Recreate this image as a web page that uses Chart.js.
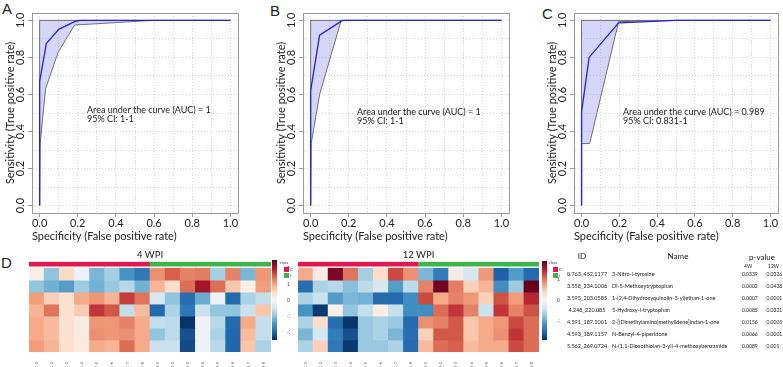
<!DOCTYPE html>
<html>
<head>
<meta charset="utf-8">
<title>ROC curves and metabolite heatmaps</title>
<script src="https://cdn.jsdelivr.net/npm/chart.js@4.4.1/dist/chart.umd.min.js"></script>
<style>
  html, body { margin: 0; padding: 0; background: #fff; }
  body { position: relative; width: 783px; height: 367px; overflow: hidden;
         font-family: Lato, "Liberation Sans", sans-serif; color: #222; }
  canvas, .txt, .sw { position: absolute; }
  .txt { white-space: nowrap; }
  .panel { font-family: "Liberation Sans", Arial, sans-serif; font-size: 15px; line-height: 15px; }
  .auc { font-size: 9px; line-height: 9px; }
  .hdr { font-size: 8px; line-height: 8px; }
  .sub { font-size: 5px; line-height: 5px; }
  .row { font-size: 5.5px; line-height: 6px; }
  .pv { font-size: 5px; line-height: 6px; }
  .tiny { font-size: 4px; line-height: 4px; color: #444; }
</style>
</head>
<body>
<div class="txt panel" style="left:2px;top:1px">A</div>
<div class="txt panel" style="left:270px;top:3px">B</div>
<div class="txt panel" style="left:542px;top:6px">C</div>
<div class="txt panel" style="left:1px;top:255px">D</div>

<canvas id="rocA" width="260" height="245" style="left:0;top:0"></canvas>
<canvas id="rocB" width="260" height="245" style="left:260px;top:0"></canvas>
<canvas id="rocC" width="260" height="245" style="left:520px;top:0"></canvas>
<canvas id="heat4" width="250" height="122" style="left:25px;top:245px"></canvas>
<canvas id="heat12" width="249" height="122" style="left:294px;top:245px"></canvas>
<canvas id="bar4" width="22" height="90" style="left:268px;top:255px"></canvas>
<canvas id="bar12" width="22" height="89" style="left:538px;top:256px"></canvas>

<script>
// ---- ROC data: [false positive rate, true positive rate] ----
const rocA = [[0, 0], [0, 0.67], [0.035, 0.875], [0.1, 0.952], [0.183, 0.993], [0.21, 1], [1, 1]];
const ciLowA = [[0, 0], [0.003, 0.335], [0.031, 0.63], [0.096, 0.826], [0.183, 0.975], [0.59, 1], [1, 1]];
const ciHighA = [[0, 0], [0, 1], [1, 1]];

const rocB = [[0, 0], [0, 0.62], [0.047, 0.92], [0.161, 0.996], [0.17, 1], [1, 1]];
const ciLowB = [[0, 0], [0.003, 0.335], [0.047, 0.6], [0.16, 1], [1, 1]];
const ciHighB = [[0, 0], [0, 1], [1, 1]];

const rocC = [[0, 0], [0, 0.505], [0.04, 0.8], [0.196, 0.987], [0.5, 1], [1, 1]];
const ciLowC = [[0, 0], [0, 0.335], [0.043, 0.335], [0.196, 0.993], [0.45, 1], [1, 1]];
const ciHighC = [[0, 0], [0, 1], [1, 1]];

const aucA = ['Area under the curve (AUC) = 1', '95% CI: 1-1'];
const aucB = ['Area under the curve (AUC) = 1', '95% CI: 1-1'];
const aucC = ['Area under the curve (AUC) = 0.989', '95% CI: 0.831-1'];

const gridSteps = [0, 0.1, 0.2, 0.3, 0.4, 0.5, 0.6, 0.7, 0.8, 0.9, 1.0];

// ---- heatmap data ----
const samples4w = ['4C-1', '4C-2', '4C-3', '4C-4', '4C-5', '4C-6', '4C-7', '4C-8',
                   '4I-1', '4I-2', '4I-3', '4I-4', '4I-5', '4I-6', '4I-7', '4I-8'];
const samples12w = ['12C-1', '12C-2', '12C-3', '12C-4', '12C-5', '12C-6', '12C-7', '12C-8',
                    '12I-1', '12I-2', '12I-3', '12I-4', '12I-5', '12I-6', '12I-7', '12I-8'];
const sampleClass = ['C', 'C', 'C', 'C', 'C', 'C', 'C', 'C', 'I', 'I', 'I', 'I', 'I', 'I', 'I', 'I'];

const hm4w = [
  [0.15, -1.0, 0.5, -0.15, -1.15, -0.85, -1.5, -1.8, 1.15, 1.5, 1.25, 1.3, -0.85, 1.25, -1.15, 1.1],
  [-1.0, -1.2, -1.4, -0.9, -1.2, -0.95, -0.7, -1.2, 0.85, 0.45, 1.4, 2.1, 1.4, 0.7, 0.15, 1.05],
  [1.05, 0.6, 0.4, 0.95, 1.1, 0.85, 1.75, 1.35, -0.4, -1.0, -1.9, -1.25, -0.15, -1.95, -0.8, -0.6],
  [0.85, 1.35, 0.4, 0.65, 1.8, 1.55, -0.6, 0.8, -1.95, -0.8, -1.8, -0.55, -1.0, -1.0, -0.55, 0.7],
  [0.95, 0.8, 0.4, 0.2, 1.1, 1.1, 1.25, 0.95, -0.6, -0.65, -2.45, -0.15, -0.7, -1.95, 0.95, -0.6],
  [0.95, 0.8, 0.4, 0.25, 1.15, 1.1, 1.15, 0.95, -1.0, -0.65, -2.2, -0.15, -0.8, -2.0, 0.8, -0.6],
  [1.05, 0.85, 0.4, 0.25, 0.95, 0.85, 1.4, 0.95, -0.55, -0.55, -2.25, -0.15, -0.7, -2.0, 0.7, -0.8]
];
const hm12w = [
  [0.7, 0.15, 1.74, 1.0, -0.63, 0.33, 1.22, 0.85, -0.85, -1.3, 0.15, -0.33, 0.81, -1.52, -1.04, -1.44],
  [-1.41, -0.59, -0.52, -0.78, -0.48, -0.33, -1.04, -0.48, 0.93, 1.81, 0.96, 0.44, 0.63, -1.15, -0.67, 1.85],
  [-0.59, -0.41, -1.04, -0.85, -0.89, -1.44, -1.45, -1.15, 1.22, 0.7, 0.93, 0.81, 0.44, 1.18, 0.78, 1.41],
  [-1.11, -1.78, 0.11, -0.74, -0.44, 0.15, -0.44, -1.15, -1.15, 1.04, 1.33, 0.93, -0.41, 1.33, 0.93, 1.18],
  [-0.59, 0.33, -1.41, -1.81, -0.7, -0.59, -0.7, -1.44, 0.85, 0.93, 1.15, 0.52, 0.7, 0.81, 1.22, 1.04],
  [-0.85, -0.33, -1.3, -1.63, -0.7, -0.59, -0.85, -1.41, 0.44, 1.15, 1.15, 0.52, 0.7, 0.85, 1.33, 1.04],
  [-0.59, 0.44, -1.33, -1.78, -0.7, -0.7, -0.59, -1.44, 0.59, 1.04, 1.11, 0.59, 0.7, 0.7, 1.22, 1.04]
];
const range4w = [-2.5, 2.5];
const range12w = [-1.85, 1.85];
const legendTicks4w = [-2, -1, 0, 1, 2];
const legendTicks12w = [-1, 0, 1];

// ---- metabolite table ----
const featureIds = ['0.763_452.1177', '3.558_234.1006', '3.595_203.0585', '4.248_220.085',
                    '4.591_187.1001', '4.593_189.1157', '5.562_269.0724'];
const featureNames = ['3-Nitro-l-tyrosine', 'Dl-5-Methoxytryptophan',
                      '1-(2,4-Dihydroxyquinolin-3-yl)ethan-1-one', '5-Hydroxy-l-tryptophan',
                      '2-[(Dimethylamino)methylidene]indan-1-one', 'N-Benzyl-4-piperidone',
                      'N-(1,1-Dioxothiolan-3-yl)-4-methoxybenzamide'];
const pValue4w = ['0.0339', '0.0002', '0.0007', '0.0085', '0.0156', '0.0066', '0.0089'];
const pValue12w = ['0.0326', '0.0428', '0.0001', '0.0321', '0.0005', '0.0001', '0.001'];

// ---- styles ----
const FONT = 'Lato, "Liberation Sans", sans-serif';
const textColor = '#222';
const boxColor = '#9a9a9a';
const gridColor = '#d4d4d4';
const rocLine = '#2323e0';
const ciLine = '#707070';
const ciFill = 'rgba(165, 165, 245, 0.45)';
const classColors = { C: '#e3174f', I: '#3db54a' };
const rdbu = ['#053061', '#2166ac', '#4393c3', '#92c5de', '#d1e5f0', '#f7f7f7',
              '#fddbc7', '#f4a582', '#d6604d', '#b2182b', '#67001f'];

Chart.defaults.font.family = FONT;
Chart.defaults.color = textColor;

const pts = arr => arr.map(([x, y]) => ({ x, y }));
const isMajor = v => Math.round(v * 10) % 2 === 0;

function hexRgb(h) {
  return [1, 3, 5].map(i => parseInt(h.slice(i, i + 2), 16));
}
function heatColor(v, lo, hi) {
  let t = (v - lo) / (hi - lo);
  t = Math.max(0, Math.min(1, t));
  const p = t * (rdbu.length - 1);
  const i = Math.min(rdbu.length - 2, Math.floor(p));
  const f = p - i;
  const a = hexRgb(rdbu[i]), b = hexRgb(rdbu[i + 1]);
  const c = a.map((x, k) => Math.round(x + (b[k] - x) * f));
  return 'rgb(' + c.join(',') + ')';
}

// one ROC panel; box edges are set by padding + fixed axis sizes
function rocChart(id, padLeft, padRight, roc, ciHigh, ciLow) {
  const frameAxis = {
    type: 'linear', min: -0.04, max: 1.04,
    ticks: { display: false },
    grid: { drawOnChartArea: false, drawTicks: false },
    border: { color: boxColor }
  };
  return new Chart(document.getElementById(id), {
    type: 'line',
    data: {
      datasets: [
        {
          label: 'ROC', data: pts(roc), order: 0,
          borderColor: rocLine, borderWidth: 1.3, pointRadius: 0, fill: false, tension: 0
        },
        {
          label: '95% CI', data: pts(ciHigh.concat(ciLow.slice().reverse())), order: 1,
          borderColor: ciLine, borderWidth: 1, backgroundColor: ciFill,
          pointRadius: 0, fill: 'shape', tension: 0
        }
      ]
    },
    options: {
      responsive: false,
      animation: false,
      events: [],
      layout: { padding: { left: padLeft, right: padRight, top: 13, bottom: 0 } },
      plugins: { legend: { display: false }, tooltip: { enabled: false } },
      scales: {
        x: {
          type: 'linear', position: 'bottom', min: -0.04, max: 1.04,
          afterBuildTicks: s => { s.ticks = gridSteps.map(v => ({ value: v })); },
          afterFit: s => { s.height = 32; },
          grid: {
            color: gridColor, tickLength: 4, tickWidth: 1,
            tickColor: ctx => (ctx.tick && isMajor(ctx.tick.value) ? boxColor : 'transparent')
          },
          border: { color: boxColor, dash: [1, 2] },
          ticks: {
            font: { size: 11 }, color: textColor, padding: 0, maxRotation: 0,
            callback: v => (isMajor(v) ? v.toFixed(1) : '')
          },
          title: {
            display: true, text: 'Specificity (False positive rate)', align: 'start',
            font: { size: 11 }, color: textColor, padding: { top: 0, bottom: 2 }
          }
        },
        y: {
          type: 'linear', position: 'left', min: -0.04, max: 1.04,
          afterBuildTicks: s => { s.ticks = gridSteps.map(v => ({ value: v })); },
          afterFit: s => { s.width = 32; },
          grid: {
            color: gridColor, tickLength: 4, tickWidth: 1,
            tickColor: ctx => (ctx.tick && isMajor(ctx.tick.value) ? boxColor : 'transparent')
          },
          border: { color: boxColor, dash: [1, 2] },
          ticks: {
            font: { size: 11 }, color: textColor, padding: 0,
            minRotation: 90, maxRotation: 90, crossAlign: 'center',
            callback: v => (isMajor(v) ? v.toFixed(1) : '')
          },
          title: {
            display: true, text: 'Sensitivity (True positive rate)',
            font: { size: 11 }, color: textColor, padding: { top: 3.5, bottom: 0 }
          }
        },
        xTop: Object.assign({ position: 'top', afterFit: s => { s.height = 0; } }, frameAxis),
        yRight: Object.assign({ position: 'right', afterFit: s => { s.width = 0; } }, frameAxis)
      }
    }
  });
}

rocChart('rocA', 0, 22, rocA, ciHighA, ciLowA);
rocChart('rocB', 11, 11, rocB, ciHighB, ciLowB);
rocChart('rocC', 22, 2, rocC, ciHighC, ciLowC);

// heatmap as floating bars: one dataset per metabolite row plus the class strip
function heatChart(id, title, samples, values, range) {
  const datasets = values.map((row, r) => ({
    label: featureIds[r],
    data: row.map(() => [r, r + 1]),
    backgroundColor: row.map(v => heatColor(v, range[0], range[1])),
    borderWidth: 0, grouped: false, barPercentage: 1, categoryPercentage: 1
  }));
  datasets.push({
    label: 'class',
    data: samples.map(() => [-0.5, -0.17]),
    backgroundColor: sampleClass.map(c => classColors[c]),
    borderWidth: 0, grouped: false, barPercentage: 1, categoryPercentage: 1
  });
  return new Chart(document.getElementById(id), {
    type: 'bar',
    data: { labels: samples, datasets },
    options: {
      responsive: false,
      animation: false,
      events: [],
      layout: { padding: { left: 4, right: 4, top: 0, bottom: 0 } },
      plugins: {
        legend: { display: false },
        tooltip: { enabled: false },
        title: {
          display: true, text: title, color: textColor,
          font: { size: 9.5, weight: 'normal' }, padding: { top: 4.6, bottom: 0 }
        }
      },
      scales: {
        x: {
          grid: { display: false },
          border: { display: false },
          afterFit: s => { s.height = 15; },
          ticks: { font: { size: 4 }, color: '#555', autoSkip: false, minRotation: 90, maxRotation: 90, padding: 2 }
        },
        y: { display: false, reverse: true, min: -0.6, max: 7 }
      }
    }
  });
}

heatChart('heat4', '4 WPI', samples4w, hm4w, range4w);
heatChart('heat12', '12 WPI', samples12w, hm12w, range12w);

// colour key for each heatmap
function colorBarChart(id, range, tickVals) {
  return new Chart(document.getElementById(id), {
    type: 'bar',
    data: {
      labels: [''],
      datasets: [{
        data: [range],
        borderWidth: 0, barPercentage: 1, categoryPercentage: 1,
        backgroundColor: ctx => {
          const ch = ctx.chart;
          if (!ch.chartArea) return 'transparent';
          const ys = ch.scales.y;
          const g = ch.ctx.createLinearGradient(0, ys.getPixelForValue(range[0]), 0, ys.getPixelForValue(range[1]));
          rdbu.forEach((c, i) => g.addColorStop(i / (rdbu.length - 1), c));
          return g;
        }
      }]
    },
    options: {
      responsive: false,
      animation: false,
      events: [],
      layout: { padding: { left: 4, right: 0, top: 5, bottom: 5 } },
      plugins: { legend: { display: false }, tooltip: { enabled: false } },
      scales: {
        x: { display: false },
        y: {
          position: 'right', min: range[0], max: range[1],
          afterBuildTicks: s => { s.ticks = tickVals.map(v => ({ value: v })); },
          afterFit: s => { s.width = 13; },
          grid: { display: false },
          border: { display: false },
          ticks: { font: { size: 5 }, color: '#444', padding: 2 }
        }
      }
    }
  });
}

colorBarChart('bar4', range4w, legendTicks4w);
colorBarChart('bar12', range12w, legendTicks12w);

// ---- plain text parts: AUC notes, class keys, table ----
function addText(cls, left, top, text, extra) {
  const d = document.createElement('div');
  d.className = 'txt ' + cls;
  d.style.left = left + 'px';
  d.style.top = top + 'px';
  d.textContent = text;
  if (extra) Object.assign(d.style, extra);
  document.body.appendChild(d);
  return d;
}

[[aucA, 87, 104.5], [aucB, 357, 106.5], [aucC, 623, 106.5]].forEach(([lines, x, y]) => {
  lines.forEach((s, i) => addText('auc', x, y + i * 9, s));
});

function classKey(x, y) {
  addText('tiny', x - 4, y - 6, 'class');
  ['C', 'I'].forEach((c, i) => {
    const sw = document.createElement('div');
    sw.className = 'sw';
    Object.assign(sw.style, { left: x + 'px', top: (y + i * 6) + 'px', width: '5px', height: '5px', background: classColors[c] });
    document.body.appendChild(sw);
    addText('tiny', x + 6, y + i * 6 + 0.5, c);
  });
}
classKey(284, 267);
classKey(553, 267);

addText('hdr', 562, 252, 'ID', { width: '40px', textAlign: 'center' });
addText('hdr', 648, 252, 'Name', { width: '60px', textAlign: 'center' });
addText('hdr', 742, 253, 'p-value', { width: '40px', textAlign: 'center' });
addText('sub', 744, 263.5, '4W');
addText('sub', 768, 263.5, '12W');
featureIds.forEach((id, i) => {
  const top = 271 + i * 12;
  addText('row', 556, top, id, { width: '62px', textAlign: 'center' });
  addText('row', 612, top, featureNames[i]);
  addText('pv', 742, top, pValue4w[i]);
  addText('pv', 766.5, top, pValue12w[i]);
});
</script>
</body>
</html>
